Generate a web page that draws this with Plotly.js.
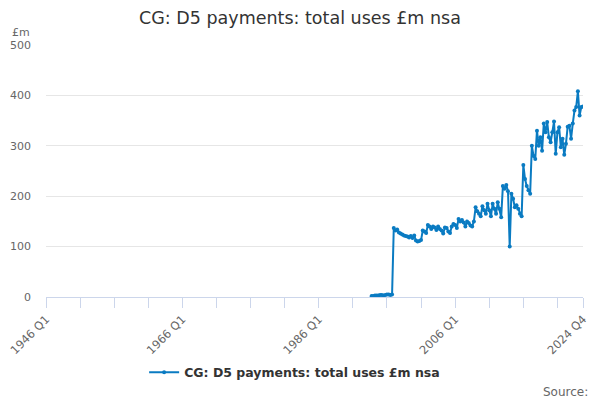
<!DOCTYPE html>
<html>
<head>
<meta charset="utf-8">
<script src="https://cdn.plot.ly/plotly-3.0.1.min.js"></script>
<style>html,body{margin:0;padding:0;background:#fff}#chart{width:600px;height:400px}</style>
</head>
<body>
<div id="chart"></div>
<script>
// Categories: quarters 1946 Q1 .. 2024 Q4
var firstYear = 1946, lastYear = 2024;
var quarters = [];
for (var yr = firstYear; yr <= lastYear; yr++) {
  for (var q = 1; q <= 4; q++) quarters.push(yr + ' Q' + q);
}
// Series starts at 1993 Q4
var seriesStart = '1993 Q4';
var valuesEarly = [2, 2, 3, 3, 3, 4, 4, 3, 4, 5, 5, 4, 5]; // 1993 Q4 - 1996 Q4
var values1997_2008 = [
  137, 132, 134, 128,
  126, 124, 122, 121,
  120, 118, 121, 117,
  122, 112, 110, 111,
  113, 132, 130, 127,
  143, 140, 135, 140,
  138, 133, 140, 135,
  132, 126, 138, 137,
  130, 127, 140, 145,
  143, 137, 155, 150,
  153, 148, 140, 150,
  147, 142, 140, 150
];
var values2009_2015 = [
  178, 170, 165, 160,
  180, 172, 165, 185,
  172, 160, 185, 175,
  165, 188, 175, 158,
  220, 215, 222, 210,
  100, 205, 195, 178,
  182, 175, 165, 160
];
var values2016_2024 = [
  262, 234, 220, 212,
  205, 300, 280, 274,
  330, 300, 317, 290,
  344, 327, 347, 317,
  307, 327, 348, 284,
  327, 337, 297, 314,
  282, 304, 338, 340,
  314, 344, 370, 377,
  408, 360, 377, 378
];
var seriesName = 'CG: D5 payments: total uses £m nsa';
var tickLabelEvery = 80, tickEvery = 20;

var vals = valuesEarly.concat(values1997_2008, values2009_2015, values2016_2024);
var startIdx = quarters.indexOf(seriesStart);
var y = quarters.map(function (c, i) {
  var k = i - startIdx;
  return (k >= 0 && k < vals.length) ? vals[k] : null;
});

var tickvals = [], ticktext = [];
for (var i = 0; i < quarters.length; i += tickEvery) {
  tickvals.push(quarters[i]);
  ticktext.push(i % tickLabelEvery === 0 ? quarters[i] : '');
}
tickvals.push(quarters[quarters.length - 1]);
ticktext.push(quarters[quarters.length - 1]);

var color = '#0a7bc2';
var trace = {
  x: quarters, y: y, type: 'scatter', mode: 'lines+markers',
  name: seriesName,
  line: {color: color, width: 2},
  marker: {color: color, size: 4},
  connectgaps: false
};
var layout = {
  width: 600, height: 400,
  margin: {l: 46, r: 17, t: 45, b: 103},
  paper_bgcolor: '#fff', plot_bgcolor: '#fff',
  font: {family: 'DejaVu Sans, sans-serif', color: '#666'},
  title: {text: 'CG: D5 payments: total uses £m nsa', x: 0.5, xanchor: 'center', y: 0.955, yanchor: 'middle',
          font: {family: 'DejaVu Sans, sans-serif', size: 17.5, color: '#333'}},
  xaxis: {
    type: 'category', categoryorder: 'array', categoryarray: quarters,
    range: [0, quarters.length - 1],
    tickmode: 'array', tickvals: tickvals, ticktext: ticktext,
    tickangle: -45, ticks: 'outside', ticklen: 10, tickcolor: '#ccd6eb', tickwidth: 1,
    showline: true, linecolor: '#ccd6eb', linewidth: 1,
    showgrid: false, zeroline: false,
    tickfont: {size: 11.5, color: '#666'}
  },
  yaxis: {
    range: [0, 500], tickvals: [0, 100, 200, 300, 400, 500],
    showgrid: true, gridcolor: '#e6e6e6', zeroline: false, showline: false,
    ticks: '', tickfont: {size: 11, color: '#666'}, ticklabelstandoff: 14
  },
  showlegend: true,
  legend: {orientation: 'h', x: 0.463, xanchor: 'center', y: -0.30, yanchor: 'middle', itemwidth: 30,
           font: {size: 12.5, color: '#333', family: 'DejaVu Sans, sans-serif', weight: 'bold'}},
  annotations: [
    {text: '£m', xref: 'paper', yref: 'paper', x: -0.046, y: 1.05, xanchor: 'center', yanchor: 'middle',
     showarrow: false, font: {size: 11, color: '#666'}},
    {text: 'Source:', xref: 'paper', yref: 'paper', x: 1.013, y: -0.375, xanchor: 'right', yanchor: 'middle',
     showarrow: false, font: {size: 12, color: '#666'}}
  ]
};
Plotly.newPlot('chart', [trace], layout, {displayModeBar: false, staticPlot: true});
</script>
</body>
</html>
